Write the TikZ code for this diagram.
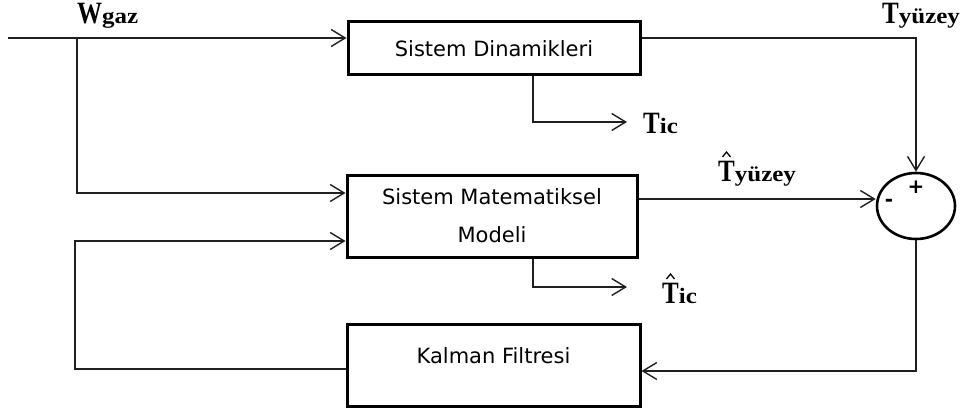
\documentclass[tikz,border=0pt]{standalone}
\usepackage{graphicx}
\usepackage{fontspec}
\setmainfont{Liberation Serif}
\newfontfamily\boxfont{DejaVu Sans}
\usetikzlibrary{arrows.meta,shapes.geometric,calc}

% signal names: tall bold main letter, wide short subscript
\newcommand{\SigMain}[1]{\scalebox{1.25}[1.55]{#1}}
\newcommand{\SigSub}[1]{\scalebox{1.25}[1.1]{#1}}

\begin{document}
\begin{tikzpicture}[x=1pt,y=-1pt,
  box/.style={draw=black, line width=3pt, inner sep=0pt, align=center,
    font=\boxfont\fontsize{21}{35}\selectfont},
  wire/.style={line width=1.4pt, draw=black!88},
  arr/.style={wire, -{Straight Barb[length=14pt,width=17pt,line width=1.4pt]}},
  sig/.style={inner sep=0pt, anchor=base west, font=\fontsize{20}{20}\selectfont\bfseries},
  hatmark/.style={line width=1.3pt, line join=miter},
  sumpt/.style={draw=black, ellipse, line width=2.6pt, inner sep=0pt,
    minimum width=78pt, minimum height=66pt},
  signmark/.style={inner sep=0pt, font=\boxfont\bfseries\fontsize{20}{20}\selectfont}]

\path[fill=white, use as bounding box] (0,0) rectangle (961,412);

% blocks
\node[box, minimum width=292pt, minimum height=53pt] (sd) at (494,48.5) {Sistem Dinamikleri};
\node[box, minimum width=290pt, minimum height=82pt] (mm) at (492,216)
  {\raisebox{-3pt}{\shortstack{Sistem Matematiksel\\[19pt]Modeli}}};
\node[box, minimum width=293pt, minimum height=82pt] (kf) at (493.5,365)
  {\raisebox{18pt}{Kalman Filtresi}};
\node[sumpt] (sum) at (916,206) {};
\node[signmark] (plus) at (916,187) {+};
\node[signmark] (minus) at (889,203) {-};

% helper points
\coordinate (src) at (8,38);
\coordinate (tap) at (77,38);
\coordinate (fbx) at (75,0);
\coordinate (dropx) at (533,0);
\coordinate (ticend) at (627,122);
\coordinate (tichend) at (627,287);

% connectors
\draw[arr] (src) -- (src -| sd.west);
\draw[arr] (tap) |- (mm.west |- 0,193);
\draw[arr] (src -| sd.east) -| (sum.north);
\draw[arr] (mm.east |- 0,199) -- (sum.west |- 0,199);
\draw[arr] (sd.south -| dropx) |- (ticend);
\draw[arr] (mm.south -| dropx) |- (tichend);
\draw[arr] (sum.south) |- (kf.east |- 0,371);
\draw[arr] (kf.west |- 0,369) -| (fbx |- 0,241) -- (mm.west |- 0,241);

% signal labels
\node[sig] (wg) at (77,24) {\SigMain{W}\SigSub{gaz}};
\node[sig] (ty) at (882,24) {\SigMain{T}\SigSub{yüzey}};
\node[sig] (ti) at (643,133) {\SigMain{T}\SigSub{ic}};
\node[sig] (tyh) at (718,181) {\SigMain{T}\SigSub{yüzey}};
\node[sig] (tih) at (662,303) {\SigMain{T}\SigSub{ic}};

% estimate hats over the T of the estimated signals
\draw[hatmark] ($(tyh.base west)+(4.5,-24)$) -- ++(4,-5) -- ++(4,5);
\draw[hatmark] ($(tih.base west)+(4.5,-24)$) -- ++(4,-5) -- ++(4,5);
\end{tikzpicture}
\end{document}
